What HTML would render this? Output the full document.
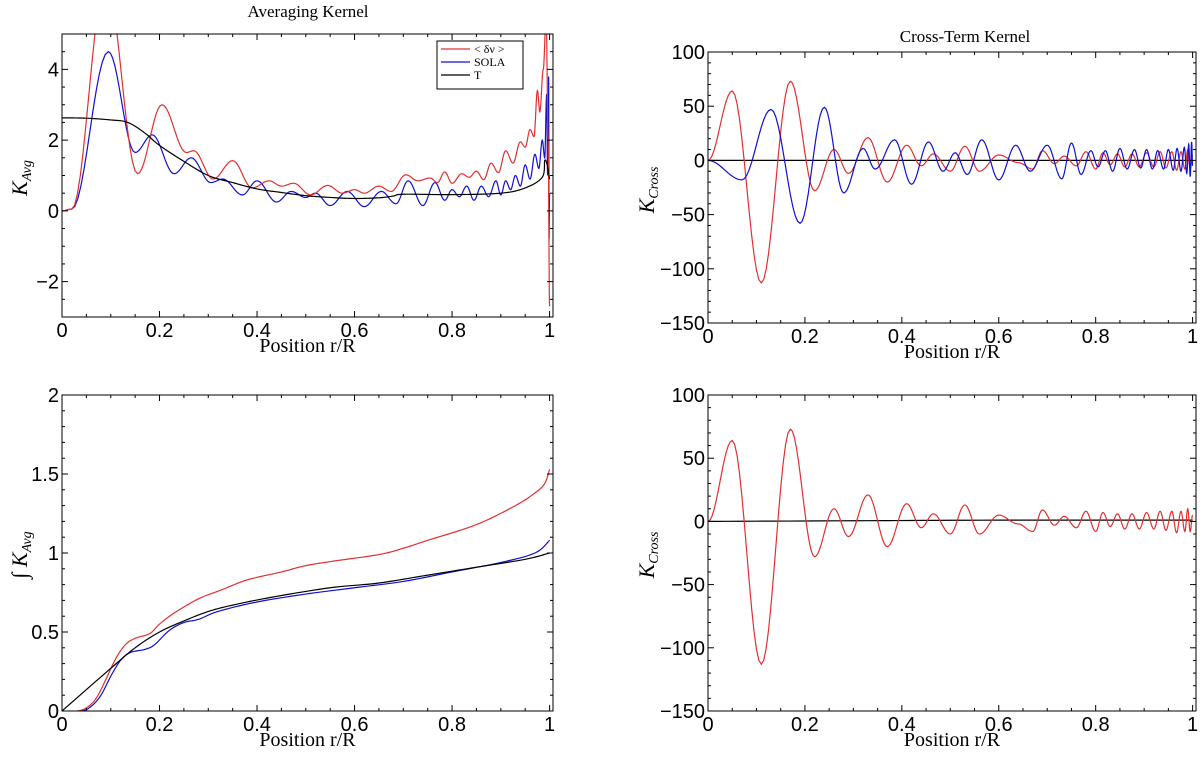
<!DOCTYPE html>
<html><head><meta charset="utf-8"><style>
body{margin:0;background:#fff;width:1200px;height:758px;overflow:hidden}
svg text{font-family:"Liberation Sans",sans-serif}
.serif{font-family:"Liberation Serif",serif}
</style></head><body>
<svg id="fig" width="1200" height="758" xmlns="http://www.w3.org/2000/svg"></svg>
<script>
// ---- data (extrema / sample points) ----
const tlRed=[[0,0],[0.02,0.05],[0.09,6.5],[0.155,1.05],[0.205,3.0],[0.255,1.65],[0.27,1.7],[0.31,0.9],[0.35,1.42],[0.39,0.65],[0.425,0.85],[0.45,0.7],[0.475,0.78],[0.51,0.45],[0.545,0.72],[0.575,0.5],[0.6,0.6],[0.62,0.5],[0.65,0.7],[0.675,0.55],[0.705,1.02],[0.73,0.85],[0.755,0.93],[0.77,0.8],[0.785,1.1],[0.8,0.78],[0.82,1.05],[0.835,0.95],[0.85,1.12],[0.865,0.88],[0.88,1.35],[0.895,1.08],[0.91,1.7],[0.925,1.35],[0.94,1.95],[0.95,1.8],[0.96,2.3],[0.968,2.1],[0.975,3.4],[0.98,2.8],[0.987,4.0],[0.993,5.5],[0.997,2],[1.0,-2.7]];
const tlBlue=[[0,0],[0.02,0.05],[0.095,4.5],[0.15,1.65],[0.185,2.15],[0.23,1.05],[0.265,1.5],[0.305,0.8],[0.33,0.9],[0.37,0.45],[0.4,0.85],[0.44,0.25],[0.47,0.55],[0.5,0.38],[0.52,0.5],[0.55,0.15],[0.585,0.55],[0.62,0.12],[0.655,0.55],[0.685,0.2],[0.71,0.85],[0.74,0.15],[0.765,0.8],[0.785,0.3],[0.8,0.6],[0.815,0.4],[0.83,0.7],[0.845,0.3],[0.86,0.7],[0.875,0.4],[0.89,0.85],[0.9,0.45],[0.91,0.85],[0.92,0.6],[0.93,1.0],[0.94,0.7],[0.95,1.3],[0.96,0.9],[0.97,1.6],[0.978,1.2],[0.985,2.0],[0.99,1.5],[0.994,3.3],[0.996,1.0],[0.998,3.8],[0.999,-0.8],[1.0,0.5]];
const tlBlack=[[0,2.63],[0.05,2.62],[0.1,2.57],[0.135,2.5],[0.17,2.2],[0.2,1.85],[0.25,1.4],[0.3,1.0],[0.35,0.8],[0.4,0.62],[0.45,0.52],[0.5,0.43],[0.55,0.38],[0.6,0.35],[0.65,0.37],[0.68,0.42],[0.7,0.47],[0.8,0.46],[0.9,0.5],[0.95,0.65],[0.985,0.95],[0.99,1.42],[0.995,1.3],[1.0,0.9]];
const crossRed=[[0,0],[0.05,64],[0.11,-113],[0.17,73],[0.22,-28],[0.26,10],[0.29,-12],[0.33,21],[0.37,-20],[0.41,14],[0.44,-5],[0.465,6],[0.5,-10],[0.53,13],[0.56,-10],[0.6,5],[0.64,-2],[0.67,-8],[0.69,9],[0.715,-3],[0.735,4],[0.76,-5],[0.78,8],[0.8,-8],[0.815,7],[0.83,-4],[0.845,6],[0.86,-6],[0.875,6],[0.89,-6],[0.905,7],[0.92,-6],[0.933,8],[0.945,-7],[0.957,8],[0.967,-9],[0.976,8],[0.984,-8],[0.99,10],[0.995,-8],[1.0,5]];
const crossBlue=[[0,0],[0.07,-18],[0.13,47],[0.19,-58],[0.24,49],[0.28,-30],[0.32,11],[0.345,-8],[0.385,19],[0.42,-22],[0.455,17],[0.485,-10],[0.51,7],[0.535,-13],[0.565,19],[0.6,-18],[0.635,14],[0.665,-10],[0.7,14],[0.73,-17],[0.75,16],[0.77,-13],[0.79,9],[0.805,-6],[0.82,9],[0.835,-10],[0.85,11],[0.865,-8],[0.88,10],[0.893,-7],[0.905,10],[0.917,-8],[0.928,9],[0.94,-8],[0.95,10],[0.96,-9],[0.968,11],[0.976,-10],[0.983,12],[0.988,-12],[0.992,15],[0.995,-15],[0.998,17],[1.0,-5]];
const crossBlack=[[0,0],[1,0]];
const brBlack=[[0,0],[0.3,0.5],[0.6,1],[1,1]];
const cumRed=[[0,0],[0.03,0],[0.05,0.02],[0.07,0.08],[0.09,0.2],[0.11,0.33],[0.13,0.42],[0.15,0.46],[0.18,0.49],[0.2,0.55],[0.23,0.62],[0.28,0.71],[0.33,0.77],[0.38,0.83],[0.45,0.88],[0.5,0.92],[0.56,0.95],[0.65,0.99],[0.7,1.03],[0.75,1.08],[0.85,1.18],[0.93,1.3],[0.97,1.38],[0.99,1.44],[1.0,1.53]];
const cumBlue=[[0,0],[0.04,0],[0.06,0.03],[0.08,0.1],[0.1,0.22],[0.12,0.32],[0.14,0.37],[0.17,0.39],[0.19,0.42],[0.22,0.51],[0.25,0.56],[0.28,0.58],[0.32,0.63],[0.4,0.69],[0.5,0.74],[0.6,0.78],[0.7,0.82],[0.8,0.88],[0.9,0.94],[0.97,1.0],[1.0,1.08]];
const cumBlack=[[0,0],[0.1,0.27],[0.15,0.4],[0.2,0.5],[0.25,0.57],[0.3,0.63],[0.35,0.67],[0.43,0.72],[0.55,0.78],[0.65,0.81],[0.75,0.86],[0.85,0.91],[0.95,0.96],[1.0,1.0]];
const xTicks=[0,0.2,0.4,0.6,0.8,1];
const xTickLabels=["0","0.2","0.4","0.6","0.8","1"];
const tlYTicks=[-2,0,2,4];
const crossYTicks=[-150,-100,-50,0,50,100];
const cumYTicks=[0,0.5,1,1.5,2];
const cumYTickLabels=["0","0.5","1","1.5","2"];

const NS="http://www.w3.org/2000/svg";
const svg=document.getElementById('fig');
function mk(tag,attrs,parent){const e=document.createElementNS(NS,tag);for(const k in attrs)e.setAttribute(k,attrs[k]);(parent||svg).appendChild(e);return e;}
let clipId=0;
function panel(cfg){
  const g=mk('g',{});
  
  
  const X=v=>cfg.l+(v-0)/(cfg.xmax)*(cfg.r-cfg.l);
  const Y=v=>cfg.b-(v-cfg.ymin)/(cfg.ymax-cfg.ymin)*(cfg.b-cfg.t);
  const id='clip'+(clipId++);
  const cp=mk('clipPath',{id:id},g);mk('rect',{x:cfg.l,y:cfg.t,width:cfg.r-cfg.l,height:cfg.b-cfg.t},cp);
  const plot=mk('g',{'clip-path':'url(#'+id+')'},g);
  cfg.series.forEach(s=>{
    let pts=[];
    const d=s.data;
    if(s.osc){
      for(let i=0;i<d.length-1;i++){const [x0,y0]=d[i],[x1,y1]=d[i+1];const n=12;
        for(let k=0;k<n;k++){const t=k/n;const f=(1-Math.cos(Math.PI*t))/2;pts.push([X(x0+(x1-x0)*t),Y(y0+(y1-y0)*f)]);}}
      pts.push([X(d[d.length-1][0]),Y(d[d.length-1][1])]);
    } else {
      const P=d.map(p=>[X(p[0]),Y(p[1])]);
      for(let i=0;i<P.length-1;i++){const p0=P[Math.max(0,i-1)],p1=P[i],p2=P[i+1],p3=P[Math.min(P.length-1,i+2)];
        for(let k=0;k<10;k++){const t=k/10,t2=t*t,t3=t2*t;
          pts.push([0,1].map(j=>0.5*((2*p1[j])+(-p0[j]+p2[j])*t+(2*p0[j]-5*p1[j]+4*p2[j]-p3[j])*t2+(-p0[j]+3*p1[j]-3*p2[j]+p3[j])*t3)));}}
      pts.push(P[P.length-1]);
    }
    const p=mk('polyline',{points:pts.map(q=>q[0].toFixed(2)+','+q[1].toFixed(2)).join(' '),fill:'none',stroke:s.color,'stroke-width':1.2},plot);
    
    
  });
  const fr=mk('rect',{x:cfg.l,y:cfg.t,width:cfg.r-cfg.l,height:cfg.b-cfg.t,fill:'none',stroke:'#000','stroke-width':1},g);
  
  
  for(let v=0;v<=1.0001;v+=0.05){const major=Math.abs(v*5-Math.round(v*5))<1e-6;const L=major?6:3;
    mk('line',{x1:X(v),x2:X(v),y1:cfg.b,y2:cfg.b-L,stroke:'#000'},g);mk('line',{x1:X(v),x2:X(v),y1:cfg.t,y2:cfg.t+L,stroke:'#000'},g);}
  xTicks.forEach((v,i)=>{const t=mk('text',{x:X(v),y:cfg.b+20,'text-anchor':'middle','font-size':20},g);t.textContent=xTickLabels[i];
    });
  const ys=cfg.yTicks;const step=(ys[1]-ys[0])/cfg.minor;
  for(let v=cfg.ymin;v<=cfg.ymax+1e-9;v+=step){const major=ys.some(q=>Math.abs(q-v)<1e-9);const L=major?6:3;
    mk('line',{x1:cfg.l,x2:cfg.l+L,y1:Y(v),y2:Y(v),stroke:'#000'},g);mk('line',{x1:cfg.r,x2:cfg.r-L,y1:Y(v),y2:Y(v),stroke:'#000'},g);}
  ys.forEach((v,i)=>{const t=mk('text',{x:cfg.l-3,y:Y(v)+7,'text-anchor':'end','font-size':20},g);t.textContent=cfg.yLabels?cfg.yLabels[i]:String(v).replace('-','\u2212');
    });
  const xl=mk('text',{x:(cfg.l+cfg.r)/2,y:cfg.b+35,'text-anchor':'middle','font-size':20,class:'serif'},g);xl.textContent='Position r/R';
  
  const yl=mk('text',{transform:`translate(${cfg.yl[0]},${cfg.yl[1]}) rotate(-90)`,'text-anchor':'middle','font-size':22,class:'serif','font-style':'italic'},g);
  yl.innerHTML=cfg.ytitle;
  
  if(cfg.title){const tt=mk('text',{x:cfg.title[1],y:cfg.title[2],'text-anchor':'middle','font-size':17,class:'serif'},g);tt.textContent=cfg.title[0];
    }
  return g;
}
panel({name:'averaging-kernel-panel',l:62,r:553,t:34,b:317,xmax:1.007,ymin:-3,ymax:5,yTicks:tlYTicks,minor:4,yl:[27,178],
  ytitle:'K<tspan font-size="14" dy="4">Avg</tspan>',title:['Averaging Kernel',308,17],
  series:[{name:'sola-line',data:tlBlue,color:'#1010d0',osc:true},{name:'delta-nu-line',data:tlRed,color:'#e03030',osc:true},{name:'t-line',data:tlBlack,color:'#000',osc:false}]});
panel({name:'cross-term-panel',l:708,r:1196,t:52,b:323,xmax:1.007,ymin:-150,ymax:100,yTicks:crossYTicks,minor:5,yl:[654,190],
  ytitle:'K<tspan font-size="14" dy="4">Cross</tspan>',title:['Cross-Term Kernel',965,42],
  series:[{name:'zero-line',data:crossBlack,color:'#000',osc:false},{name:'delta-nu-cross-line',data:crossRed,color:'#e03030',osc:true},{name:'sola-cross-line',data:crossBlue,color:'#1010d0',osc:true}]});
panel({name:'cumulative-kernel-panel',l:62,r:553,t:395,b:711,xmax:1.007,ymin:0,ymax:2,yTicks:cumYTicks,yLabels:cumYTickLabels,minor:5,yl:[27,555],
  ytitle:'\u222B K<tspan font-size="14" dy="4">Avg</tspan>',
  series:[{name:'delta-nu-cum-line',data:cumRed,color:'#e03030',osc:false},{name:'sola-cum-line',data:cumBlue,color:'#1010d0',osc:false},{name:'t-cum-line',data:cumBlack,color:'#000',osc:false}]});
panel({name:'cross-term-panel-2',l:708,r:1196,t:395,b:711,xmax:1.007,ymin:-150,ymax:100,yTicks:crossYTicks,minor:5,yl:[654,555],
  ytitle:'K<tspan font-size="14" dy="4">Cross</tspan>',
  series:[{name:'t-cross-line',data:brBlack,color:'#000',osc:false},{name:'delta-nu-cross-line-2',data:crossRed,color:'#e03030',osc:true}]});
const lg=mk('g',{});


mk('rect',{x:437,y:41,width:86,height:48,fill:'#fff',stroke:'#000'},lg);
[['< \u03B4\u03BD >','#e03030',53],['SOLA','#1010d0',66],['T','#000',79]].forEach(e=>{
  const ln=mk('line',{x1:441,x2:470,y1:e[2]-4,y2:e[2]-4,stroke:e[1],'stroke-width':1.2},lg);
  const t=mk('text',{x:474,y:e[2],'font-size':12,class:'serif'},lg);t.textContent=e[0];
  
});
</script>
</body></html>
